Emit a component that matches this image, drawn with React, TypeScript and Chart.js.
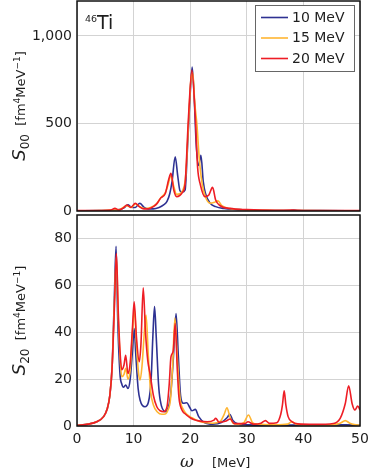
import React, { useEffect, useRef } from 'react';
import { Chart, registerables } from 'chart.js';

Chart.register(...registerables);

const SERIES_LABELS = ['10 MeV', '15 MeV', '20 MeV'];
const SERIES_COLORS = ['#2e3192', '#ffb531', '#ee1d25'];
const X_TICKS = [0, 10, 20, 30, 40, 50];
const TOP_Y_TICKS = [0, 500, 1000];
const BOT_Y_TICKS = [0, 20, 40, 60, 80];

// ---------- top panel: S00 ----------
const topBlueX = [0, 4, 6.5, 7.5, 8.3, 9.0, 9.6, 10.3, 11.1, 11.8, 12.6, 13.5, 14.5, 15.3, 15.9, 16.4, 16.8, 17.35, 17.8, 18.2, 18.6, 19.1, 19.5, 20.0, 20.35, 20.76, 21.05, 21.5, 21.9, 22.3, 22.7, 23.5, 24.5, 26, 28, 29.3, 30.5, 33, 37.5, 38.3, 39, 43, 50];
const topBlueY = [1, 2, 4, 8, 18, 35, 22, 20, 44, 22, 12, 12, 20, 35, 55, 100, 170, 310, 200, 115, 108, 120, 348, 671, 823, 610, 386, 260, 319, 170, 100, 45, 25, 14, 9, 7, 4, 3, 3, 6, 3, 2, 1];

const topOrangeX = [0, 4, 6.5, 7.5, 8.8, 9.6, 10.3, 11.1, 12, 13, 14, 14.8, 15.6, 16.0, 16.6, 17.1, 17.6, 18.2, 18.7, 19.2, 19.7, 20.1, 20.45, 20.8, 21.2, 21.6, 22.1, 22.7, 23.5, 24.3, 24.9, 25.6, 27, 30, 35, 40, 50];
const topOrangeY = [1, 2, 6, 8, 30, 20, 40, 25, 14, 20, 40, 75, 105, 140, 200, 140, 95, 100, 120, 200, 500, 740, 790, 620, 490, 300, 158, 80, 45, 50, 58, 30, 14, 6, 3, 2, 1];

const topRedX = [0, 4, 6.0, 6.7, 7.4, 8.2, 8.8, 9.5, 10.3, 11.0, 11.8, 12.6, 13.5, 14.2, 14.8, 15.6, 16.2, 16.6, 17.1, 17.6, 18.2, 18.6, 19.1, 19.7, 20.3, 20.9, 21.3, 21.8, 22.6, 23.3, 23.95, 24.5, 25.3, 27, 30, 35, 38, 40, 50];
const topRedY = [2, 3, 6, 15, 6, 18, 34, 20, 44, 25, 12, 12, 25, 45, 75, 100, 180, 215, 120, 82, 90, 105, 158, 538, 804, 538, 253, 150, 82, 92, 135, 63, 30, 15, 8, 4, 5, 3, 2];

// ---------- bottom panel: S20 ----------
const botBlueX = [0, 2, 3.5, 4.7, 5.3, 5.8, 6.2, 6.6, 6.9, 7.2, 7.6, 7.9, 8.2, 8.6, 9.0, 9.4, 9.8, 10.1, 10.4, 10.8, 11.15, 12.0, 12.6, 13.1, 13.4, 13.7, 14.0, 14.4, 14.7, 15.6, 16.5, 17.0, 17.5, 17.9, 18.3, 18.8, 19.4, 19.9, 20.3, 20.9, 21.5, 22.5, 24, 25.5, 26.5, 27.0, 27.5, 28.5, 30, 35, 40, 47.5, 50];
const botBlueY = [0.3, 0.8, 1.8, 4, 7, 13, 25, 55, 76.7, 45, 22, 18, 16.5, 17.5, 16, 20, 32, 41.6, 30, 16, 11, 8.2, 10, 20, 38, 50.9, 38, 18, 11, 6.1, 12.5, 28, 48, 30, 13, 9.7, 9.9, 8, 6.5, 7.1, 4, 1.5, 0.8, 1.5, 3.5, 5, 2.5, 0.8, 0.5, 0.3, 0.4, 0.5, 0.3];

const botOrangeX = [0, 2, 3.5, 4.7, 5.3, 5.8, 6.2, 6.6, 6.95, 7.3, 7.6, 7.9, 8.3, 8.6, 9.0, 9.4, 9.8, 10.15, 10.5, 10.9, 11.15, 11.5, 11.9, 12.2, 12.6, 13.0, 13.5, 14.2, 15.0, 15.6, 16.1, 16.5, 16.9, 17.3, 17.7, 18.2, 18.8, 19.4, 20.3, 21.1, 22.5, 24, 25.3, 26.0, 26.5, 27.0, 27.6, 28.5, 29.5, 30.3, 31.0, 32, 35, 37.2, 38, 38.7, 42, 45, 46.5, 47.4, 48.2, 49, 50];
const botOrangeY = [0.3, 0.8, 1.8, 4, 7, 13, 25, 52, 72, 45, 30, 21, 22, 24.6, 20, 24, 40, 50, 35, 22, 19.6, 26, 40, 47.3, 30, 15, 9, 6, 5, 5.1, 7, 11, 26, 46, 30, 12, 7, 5, 3.5, 2.5, 1.5, 1.2, 2, 5, 7.8, 4, 1.2, 0.8, 1.5, 4.7, 1.5, 0.8, 0.5, 0.8, 1.8, 0.8, 0.4, 0.5, 1.2, 2.3, 1.2, 0.6, 0.3];

const botRedX = [0, 2, 3.5, 4.7, 5.3, 5.8, 6.2, 6.6, 6.96, 7.3, 7.6, 7.9, 8.3, 8.6, 9.0, 9.4, 9.8, 10.1, 10.5, 11.0, 11.3, 11.7, 12.1, 12.5, 12.9, 13.5, 14.1, 14.7, 15.3, 15.9, 16.3, 16.6, 17.0, 17.35, 17.7, 18.0, 18.5, 19.1, 20.0, 20.6, 21.5, 23, 24.2, 24.5, 25.1, 26.2, 27.1, 27.8, 29, 29.8, 30.2, 31.2, 32.5, 33.3, 34, 35.3, 36.0, 36.3, 36.6, 36.9, 37.3, 38, 39, 42, 45.3, 46.5, 47.4, 48.0, 48.6, 49.1, 49.6, 50];
const botRedY = [0.3, 0.8, 1.8, 4, 7, 13, 25, 50, 73.6, 48, 32, 24, 26, 30.2, 22.4, 27, 42, 53, 38, 27.4, 35, 59, 40, 28, 22.4, 13, 8.2, 6.5, 6.1, 8.2, 18, 29.5, 32, 43.8, 25, 12.5, 7, 5.2, 3.5, 2.8, 2.2, 1.8, 2.5, 3.3, 1.6, 2, 3, 1, 1, 1.2, 1.8, 0.8, 1.2, 2.3, 1.1, 1.4, 5, 9, 15, 9, 4, 1.8, 0.9, 0.7, 1.1, 3.3, 9.6, 17.2, 9.6, 6.8, 8.5, 6.8];

const FONT = "'DejaVu Sans', sans-serif";
const GRID = '#d3d3d3';
const TEXT = '#1e1e1e';

const pts = (xs: number[], ys: number[]) => xs.map((x, i) => ({ x, y: ys[i] }));

const fmt = (v: number) => (v >= 1000 ? `${Math.floor(v / 1000)},${String(v % 1000).padStart(3, '0')}` : String(v));

function makeDatasets(series: { x: number[]; y: number[] }[]) {
  return series.map((s, i) => ({
    label: SERIES_LABELS[i],
    data: pts(s.x, s.y),
    borderColor: SERIES_COLORS[i],
    backgroundColor: SERIES_COLORS[i],
    borderWidth: 1.6,
    pointRadius: 0,
    fill: false,
    cubicInterpolationMode: 'monotone' as const,
    order: 3 - i,
  }));
}

const framePlugin = {
  id: 'frame',
  afterDraw(chart: any) {
    const { ctx, chartArea: a } = chart;
    ctx.save();
    ctx.strokeStyle = '#111';
    ctx.lineWidth = 1.5;
    ctx.strokeRect(a.left, a.top, a.right - a.left, a.bottom - a.top);
    ctx.restore();
  },
};

type Seg = { text: string; font: string; dy?: number };

function drawSegs(ctx: CanvasRenderingContext2D, segs: Seg[], x0: number, y: number) {
  let x = x0;
  segs.forEach((s) => {
    ctx.font = s.font;
    ctx.fillText(s.text, x, y + (s.dy || 0));
    x += ctx.measureText(s.text).width;
  });
}
function segsWidth(ctx: CanvasRenderingContext2D, segs: Seg[]) {
  let w = 0;
  segs.forEach((s) => {
    ctx.font = s.font;
    w += ctx.measureText(s.text).width;
  });
  return w;
}

function yTitlePlugin(sub: string) {
  return {
    id: 'ytitle',
    afterDraw(chart: any) {
      const { ctx, chartArea: a } = chart;
      const segs: Seg[] = [
        { text: 'S', font: `italic 18px ${FONT}` },
        { text: sub, font: `12px ${FONT}`, dy: 4 },
        { text: '  [fm', font: `13px ${FONT}` },
        { text: '4', font: `9px ${FONT}`, dy: -5.5 },
        { text: 'MeV', font: `13px ${FONT}` },
        { text: '\u22121', font: `9px ${FONT}`, dy: -5.5 },
        { text: ']', font: `13px ${FONT}` },
      ];
      ctx.save();
      ctx.fillStyle = TEXT;
      ctx.textBaseline = 'alphabetic';
      ctx.textAlign = 'left';
      ctx.translate(25, (a.top + a.bottom) / 2);
      ctx.rotate(-Math.PI / 2);
      const w = segsWidth(ctx, segs);
      drawSegs(ctx, segs, -w / 2, 0);
      ctx.restore();
    },
  };
}

const legendPlugin = {
  id: 'boxlegend',
  afterDraw(chart: any) {
    const { ctx } = chart;
    ctx.save();
    ctx.fillStyle = '#fff';
    ctx.fillRect(255, 5, 99, 67);
    ctx.strokeStyle = '#666';
    ctx.lineWidth = 1;
    ctx.strokeRect(255.5, 5.5, 99, 66);
    chart.data.datasets.forEach((ds: any, i: number) => {
      const y = 17.5 + i * 20.5;
      ctx.strokeStyle = ds.borderColor;
      ctx.lineWidth = 1.6;
      ctx.beginPath();
      ctx.moveTo(261, y);
      ctx.lineTo(288, y);
      ctx.stroke();
      ctx.fillStyle = TEXT;
      ctx.font = `14px ${FONT}`;
      ctx.textBaseline = 'middle';
      ctx.fillText(ds.label, 292, y + 0.5);
    });
    ctx.restore();
  },
};

const nucleusPlugin = {
  id: 'nucleus',
  afterDraw(chart: any) {
    const { ctx } = chart;
    ctx.save();
    ctx.fillStyle = TEXT;
    ctx.textBaseline = 'alphabetic';
    drawSegs(ctx, [
      { text: '46', font: `9.5px ${FONT}`, dy: -7 },
      { text: 'Ti', font: `19px ${FONT}` },
    ], 85, 28.5);
    ctx.restore();
  },
};

const xTitlePlugin = {
  id: 'xtitle',
  afterDraw(chart: any) {
    const { ctx } = chart;
    ctx.save();
    ctx.fillStyle = TEXT;
    ctx.textBaseline = 'alphabetic';
    ctx.font = `italic 17px 'DejaVu Serif', serif`;
    ctx.fillText('\u03c9', 180, 254);
    ctx.font = `13px ${FONT}`;
    ctx.fillText('[MeV]', 212, 254);
    ctx.restore();
  },
};

function zeroPad(s: any) {
  s.paddingTop = 0;
  s.paddingBottom = 0;
  s.paddingLeft = 0;
  s.paddingRight = 0;
}

export default function App() {
  const topRef = useRef<HTMLCanvasElement>(null);
  const botRef = useRef<HTMLCanvasElement>(null);

  useEffect(() => {
    const top = new Chart(topRef.current as HTMLCanvasElement, {
      type: 'line',
      data: {
        datasets: makeDatasets([
          { x: topBlueX, y: topBlueY },
          { x: topOrangeX, y: topOrangeY },
          { x: topRedX, y: topRedY },
        ]) as any,
      },
      options: {
        responsive: false,
        animation: false,
        events: [],
        layout: { padding: { left: 0, right: 14, top: 1, bottom: 19 } },
        plugins: { legend: { display: false }, tooltip: { enabled: false } },
        scales: {
          x: {
            type: 'linear',
            min: 0,
            max: 50,
            afterBuildTicks: (s: any) => { s.ticks = X_TICKS.map((value) => ({ value })); },
            ticks: { display: false },
            grid: { color: GRID, lineWidth: 1, drawTicks: false },
            border: { display: false },
            afterFit: (s: any) => { s.height = 0; zeroPad(s); },
          },
          y: {
            type: 'linear',
            min: 0,
            max: 1200,
            afterBuildTicks: (s: any) => { s.ticks = TOP_Y_TICKS.map((value) => ({ value })); },
            ticks: { font: { family: FONT, size: 14 }, color: TEXT, padding: 5, callback: (v: any) => fmt(Number(v)) },
            grid: { color: GRID, lineWidth: 1, drawTicks: false },
            border: { display: false },
            afterFit: (s: any) => { s.width = 77; zeroPad(s); },
          },
        },
      },
      plugins: [framePlugin, yTitlePlugin('00'), nucleusPlugin, legendPlugin],
    } as any);

    const bot = new Chart(botRef.current as HTMLCanvasElement, {
      type: 'line',
      data: {
        datasets: makeDatasets([
          { x: botBlueX, y: botBlueY },
          { x: botOrangeX, y: botOrangeY },
          { x: botRedX, y: botRedY },
        ]) as any,
      },
      options: {
        responsive: false,
        animation: false,
        events: [],
        layout: { padding: { left: 0, right: 14, top: 2, bottom: 0 } },
        plugins: { legend: { display: false }, tooltip: { enabled: false } },
        scales: {
          x: {
            type: 'linear',
            min: 0,
            max: 50,
            afterBuildTicks: (s: any) => { s.ticks = X_TICKS.map((value) => ({ value })); },
            ticks: { font: { family: FONT, size: 14 }, color: TEXT, padding: 5, maxRotation: 0 },
            grid: { color: GRID, lineWidth: 1, drawTicks: false },
            border: { display: false },
            afterFit: (s: any) => { s.height = 49; zeroPad(s); },
          },
          y: {
            type: 'linear',
            min: 0,
            max: 90,
            afterBuildTicks: (s: any) => { s.ticks = BOT_Y_TICKS.map((value) => ({ value })); },
            ticks: { font: { family: FONT, size: 14 }, color: TEXT, padding: 5 },
            grid: { color: GRID, lineWidth: 1, drawTicks: false },
            border: { display: false },
            afterFit: (s: any) => { s.width = 77; zeroPad(s); },
          },
        },
      },
      plugins: [framePlugin, yTitlePlugin('20'), xTitlePlugin],
    } as any);

    return () => {
      top.destroy();
      bot.destroy();
    };
  }, []);

  return (
    <div style={{ position: 'absolute', left: 0, top: 0, width: 374, height: 475, background: '#fff', overflow: 'hidden' }}>
      <canvas ref={topRef} width={374} height={230} style={{ position: 'absolute', left: 0, top: 0, width: 374, height: 230 }} />
      <canvas ref={botRef} width={374} height={262} style={{ position: 'absolute', left: 0, top: 213, width: 374, height: 262 }} />
    </div>
  );
}
